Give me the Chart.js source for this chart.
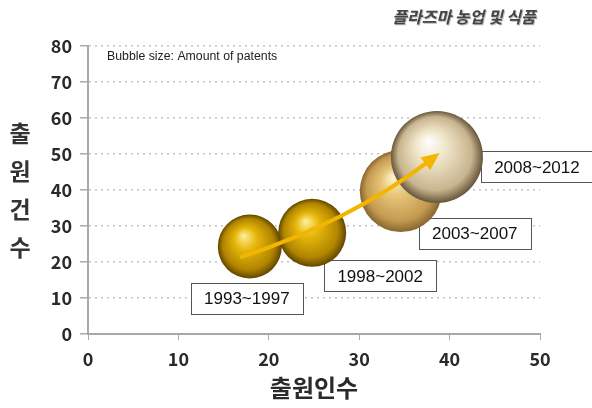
<!DOCTYPE html>
<html>
<head>
<meta charset="utf-8">
<script src="https://cdn.jsdelivr.net/npm/chart.js@4/dist/chart.umd.min.js"></script>
<style>
  html, body { margin: 0; padding: 0; background: #fff; }
  #wrap { position: relative; width: 592px; height: 408px; }
</style>
</head>
<body>
<div id="wrap"><canvas id="myChart" width="592" height="408"></canvas></div>
<script>
// data
const periods = ['1993~1997', '1998~2002', '2003~2007', '2008~2012'];
const applicants = [17.9, 24.8, 34.6, 38.6];     // 출원인수
const applications = [24.3, 28.1, 39.7, 49.2];   // 출원건수
const bubbleSize = [32, 34, 41, 46];             // amount of patents (bubble radius)
const xTicks = [0, 10, 20, 30, 40, 50];
const yTicks = [0, 10, 20, 30, 40, 50, 60, 70, 80];
// trend arrow: start, bend, end
const trendArrow = [{x: 17.0, y: 21.4}, {x: 29.0, y: 31.4}, {x: 38.9, y: 50.3}];

// sphere colours per bubble: highlight, body, edge, rim
const sphereColors = [
    ['#fff09a', '#e6b60a', '#b08400', '#604600'],
    ['#fff09a', '#e6b60a', '#b08400', '#604600'],
    ['#fff6d0', '#e6c478', '#c49a50', '#86652f'],
    ['#ffffff', '#efe4c8', '#c8b48e', '#66563c']
];

const points = [];
for (let i = 0; i < periods.length; i++) {
    points.push({x: applicants[i], y: applications[i], r: bubbleSize[i]});
}

function sphere(context) {
    const chart = context.chart;
    const i = context.dataIndex;
    const c = sphereColors[i];
    if (context.type !== 'data' || !chart.chartArea) {
        return c[1];
    }
    const raw = context.raw;
    const cx = chart.scales.x.getPixelForValue(raw.x);
    const cy = chart.scales.y.getPixelForValue(raw.y);
    const r = raw.r;
    const g = chart.ctx.createRadialGradient(cx - r * 0.2, cy - r * 0.35, 0, cx, cy, r);
    g.addColorStop(0, c[0]);
    g.addColorStop(0.35, c[1]);
    g.addColorStop(0.8, c[2]);
    g.addColorStop(1, c[3]);
    return g;
}

// offsets of the period boxes from their bubble centre
const labelOffsets = [[-3, 52], [68, 43], [74, 42], [100, 10]];

const labelBoxes = {
    id: 'labelBoxes',
    beforeDatasetsDraw(chart) {
        const ctx = chart.ctx;
        const meta = chart.getDatasetMeta(0);
        ctx.save();
        ctx.font = '17px "Liberation Sans", Arial, sans-serif';
        ctx.textAlign = 'center';
        ctx.textBaseline = 'middle';
        meta.data.forEach(function (el, i) {
            const x = el.x + labelOffsets[i][0];
            const y = el.y + labelOffsets[i][1];
            const w = 112, h = 31;
            ctx.fillStyle = '#fff';
            ctx.fillRect(x - w / 2, y - h / 2, w, h);
            ctx.strokeStyle = '#555';
            ctx.lineWidth = 1;
            ctx.strokeRect(Math.round(x - w / 2) + 0.5, Math.round(y - h / 2) + 0.5, w, h);
            ctx.fillStyle = '#111';
            ctx.fillText(periods[i], x, y + 1);
        });
        ctx.restore();
    }
};

const arrowAndText = {
    id: 'arrowAndText',
    afterDatasetsDraw(chart) {
        const ctx = chart.ctx;
        const xs = chart.scales.x, ys = chart.scales.y;
        const p = trendArrow.map(function (q) {
            return {x: xs.getPixelForValue(q.x), y: ys.getPixelForValue(q.y)};
        });
        ctx.save();
        ctx.strokeStyle = '#f2b600';
        ctx.fillStyle = '#f2b600';
        ctx.lineWidth = 4;
        ctx.lineCap = 'round';
        // stop the shaft a bit before the tip
        const ang = Math.atan2(p[2].y - p[1].y, p[2].x - p[1].x);
        const headLen = 18, headW = 8;
        const bx = p[2].x - Math.cos(ang) * (headLen - 2);
        const by = p[2].y - Math.sin(ang) * (headLen - 2);
        ctx.beginPath();
        ctx.moveTo(p[0].x, p[0].y);
        ctx.quadraticCurveTo(p[1].x, p[1].y, bx, by);
        ctx.stroke();
        ctx.beginPath();
        ctx.moveTo(p[2].x, p[2].y);
        ctx.lineTo(p[2].x - Math.cos(ang) * headLen - Math.sin(ang) * headW,
                   p[2].y - Math.sin(ang) * headLen + Math.cos(ang) * headW);
        ctx.lineTo(p[2].x - Math.cos(ang) * headLen + Math.sin(ang) * headW,
                   p[2].y - Math.sin(ang) * headLen - Math.cos(ang) * headW);
        ctx.closePath();
        ctx.fill();
        ctx.restore();
    },
    afterDraw(chart) {
        const ctx = chart.ctx;
        ctx.save();
        // note inside the plot
        ctx.fillStyle = '#222';
        ctx.font = '12.3px "Liberation Sans", Arial, sans-serif';
        ctx.textAlign = 'left';
        ctx.textBaseline = 'middle';
        ctx.fillText('Bubble size: Amount of patents', 107, 57);
        // top right title
        ctx.font = 'italic bold 16px "Noto Sans CJK KR", sans-serif';
        ctx.textAlign = 'center';
        ctx.fillStyle = '#bbb';
        ctx.fillText('플라즈마 농업 및 식품', 465, 18);
        ctx.fillStyle = '#444';
        ctx.fillText('플라즈마 농업 및 식품', 464, 17);
        // y axis title, stacked
        ctx.font = 'bold 23px "Noto Sans CJK KR", sans-serif';
        ctx.fillStyle = '#333';
        const yTitle = '출원건수';
        for (let i = 0; i < yTitle.length; i++) {
            ctx.fillText(yTitle[i], 20, 133 + i * 38);
        }
        ctx.restore();
    }
};

const ctx = document.getElementById('myChart').getContext('2d');
const myChart = new Chart(ctx, {
    type: 'bubble',
    data: {
        datasets: [{
            label: 'patents',
            data: points,
            backgroundColor: sphere,
            borderWidth: 0,
            hoverBorderWidth: 0,
            clip: false
        }]
    },
    options: {
        responsive: false,
        animation: false,
        layout: { padding: { top: 38, right: 52, left: 0, bottom: 0 } },
        plugins: {
            legend: { display: false },
            tooltip: { enabled: false }
        },
        scales: {
            x: {
                type: 'linear',
                min: xTicks[0],
                max: xTicks[xTicks.length - 1],
                afterFit: function (scale) { scale.height = 74; },
                ticks: {
                    stepSize: xTicks[1] - xTicks[0],
                    color: '#2a2a2a',
                    padding: 8,
                    font: { family: '"Noto Sans CJK KR", sans-serif', size: 18, weight: 'bold' }
                },
                grid: { drawOnChartArea: false, drawTicks: true, tickLength: 6, color: '#aaa', lineWidth: 1 },
                border: { color: '#a8a8a8', width: 2 },
                title: {
                    display: true,
                    text: '출원인수',
                    color: '#2a2a2a',
                    padding: { top: 0, bottom: 6 },
                    font: { family: '"Noto Sans CJK KR", sans-serif', size: 24, weight: 'bold' }
                }
            },
            y: {
                type: 'linear',
                min: yTicks[0],
                max: yTicks[yTicks.length - 1],
                afterFit: function (scale) { scale.width = 88; },
                ticks: {
                    stepSize: yTicks[1] - yTicks[0],
                    color: '#2a2a2a',
                    padding: 8,
                    font: { family: '"Noto Sans CJK KR", sans-serif', size: 18, weight: 'bold' }
                },
                grid: { color: '#c4c4c4', lineWidth: 1.5, tickLength: 8, tickColor: '#aaa' },
                border: { color: '#a8a8a8', width: 2, dash: [2, 4] }
            }
        }
    },
    plugins: [labelBoxes, arrowAndText]
});
</script>
</body>
</html>
